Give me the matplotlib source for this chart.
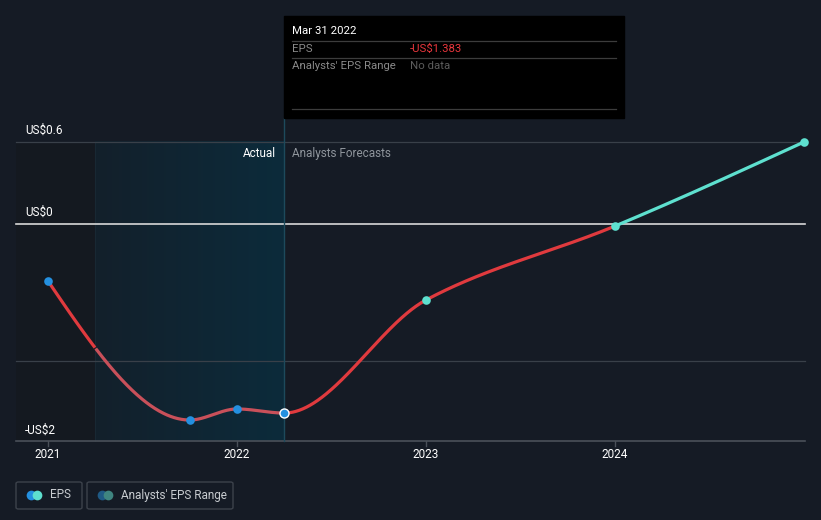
import numpy as np
import matplotlib
matplotlib.use("Agg")
import matplotlib.pyplot as plt
from matplotlib.patches import Rectangle, FancyBboxPatch
from matplotlib.colors import LinearSegmentedColormap

plt.rcParams['font.family'] = ['Roboto', 'DejaVu Sans']

# ---- data ----
actual_t = [2021.0, 2021.75, 2022.0, 2022.25]
actual_eps = [-0.417, -1.434, -1.353, -1.383]
forecast_t = [2022.25, 2023.0, 2024.0, 2025.0]
forecast_eps = [-1.383, -0.556, -0.015, 0.60]
year_ticks = [2021, 2022, 2023, 2024]
year_labels = ["2021", "2022", "2023", "2024"]
y_ticks = [0.6, 0.0, -1.6]
y_labels = ["US$0.6", "US$0", "-US$2"]
grid_extra = [-1.0]

BG = "#151b25"
W, H = 821, 520
fig = plt.figure(figsize=(W / 100, H / 100), dpi=100, facecolor=BG)
ax = fig.add_axes([0, 0, 1, 1])
ax.set_facecolor(BG)
ax.axis("off")

# pixel mapping (layout only)
x0_px, px_per_year = 48.0, 189.0
y0_px, px_per_unit = 224.0, 136.7
ax.set_xlim(2021 - x0_px / px_per_year, 2021 + (W - x0_px) / px_per_year)
ax.set_ylim((y0_px - H) / px_per_unit, y0_px / px_per_unit)

def X(px):
    return 2021 + (px - x0_px) / px_per_year

def Y(py):
    return (y0_px - py) / px_per_unit

xl, xr = X(16), X(805)
ybot = Y(441)

# left darker band
ax.add_patch(Rectangle((xl, ybot), 2021.25 - xl, y_ticks[0] - ybot, color="#141920", zorder=0, lw=0))
# gradient shaded actual region
cmap = LinearSegmentedColormap.from_list("g", ["#13202b", "#0c2b3b"])
grad = np.linspace(0, 1, 256).reshape(1, -1)
ax.imshow(grad, cmap=cmap, extent=[2021.25, 2022.25, ybot, y_ticks[0]], aspect="auto", zorder=0.5)
ax.plot([2021.25, 2021.25], [ybot, y_ticks[0]], color="#182833", lw=0.8, zorder=0.6)

# grid lines
for v in [y_ticks[0]] + grid_extra:
    ax.plot([xl, xr], [v, v], color="#394049", lw=0.9, zorder=1)
ax.plot([xl, xr], [0, 0], color="#d8d8d8", lw=1.2, zorder=1)
ax.plot([xl, xr], [ybot, ybot], color="#4a5059", lw=1.2, zorder=1)
for t, lab in zip(year_ticks, year_labels):
    ax.plot([t, t], [ybot, Y(446)], color="#4a5059", lw=1, zorder=1)
    ax.text(t, Y(455), lab, color="white", fontsize=8.5, ha="center", va="center")

for v, lab in zip(y_ticks, y_labels):
    ax.text(X(25), v + 12 / px_per_unit, lab, color="white", fontsize=8.5, ha="left", va="center")

# vertical divider
ax.plot([2022.25, 2022.25], [ybot, Y(118)], color="#1d4a5c", lw=1, zorder=1)
ax.text(X(276), Y(154), "Actual", color="white", fontsize=8.5, ha="right", va="center")
ax.text(X(292), Y(154), "Analysts Forecasts", color="#8f959c", fontsize=8.5, ha="left", va="center")

# monotone cubic interpolation (Fritsch-Carlson)
def monotone(xs, ys, n=200):
    xs = np.asarray(xs, float); ys = np.asarray(ys, float)
    h = np.diff(xs); d = np.diff(ys) / h
    m = np.zeros_like(ys)
    for i in range(1, len(xs) - 1):
        if d[i - 1] * d[i] <= 0:
            m[i] = 0
        else:
            w1 = 2 * h[i] + h[i - 1]; w2 = h[i] + 2 * h[i - 1]
            m[i] = (w1 + w2) / (w1 / d[i - 1] + w2 / d[i])
    m[0] = (3 * d[0] - m[1]) / 2
    m[-1] = (3 * d[-1] - m[-2]) / 2
    xo, yo = [], []
    for i in range(len(xs) - 1):
        t = np.linspace(0, 1, n)
        hh = h[i]
        h00 = 2 * t**3 - 3 * t**2 + 1; h10 = t**3 - 2 * t**2 + t
        h01 = -2 * t**3 + 3 * t**2; h11 = t**3 - t**2
        xo.append(xs[i] + t * hh)
        yo.append(h00 * ys[i] + h10 * hh * m[i] + h01 * ys[i + 1] + h11 * hh * m[i + 1])
    return np.concatenate(xo), np.concatenate(yo)

all_t = actual_t + forecast_t[1:]
all_y = actual_eps + forecast_eps[1:]
cx, cy = monotone(all_t, all_y)
m0 = cx <= 2021.25
m1 = (cx >= 2021.25) & (cx <= 2022.25)
m2 = (cx >= 2022.25) & (cx <= 2024.0)
m3 = cx >= 2024.0
ax.plot(cx[m0], cy[m0], color="#e03a3e", lw=2.3, zorder=3, solid_capstyle="butt")
ax.plot(cx[m1], cy[m1], color="#c9505a", lw=2.3, zorder=3, solid_capstyle="butt")
ax.plot(cx[m2], cy[m2], color="#e03a3e", lw=2.3, zorder=3, solid_capstyle="butt")
ax.plot(cx[m3], cy[m3], color="#5ee0cf", lw=2.3, zorder=3, solid_capstyle="round")

# markers
ax.plot(actual_t[:-1], actual_eps[:-1], "o", color="#2490e0", ms=6.2, mew=0, zorder=4)
ax.plot(actual_t[-1:], actual_eps[-1:], "o", color="#2490e0", ms=6.5, mec="white", mew=1, zorder=4)
ax.plot(forecast_t[1:], forecast_eps[1:], "o", color="#5ee0cf", ms=6.2, mew=0, zorder=4)

# tooltip (screen coordinates)
def fx(px): return px / W
def fy(py): return 1 - py / H
fig.patches.append(Rectangle((fx(284), fy(118)), (624 - 284) / W, (118 - 16) / H,
                             transform=fig.transFigure, color="black", zorder=5))
fig.text(fx(292), fy(31), "Mar 31 2022", color="white", fontsize=8.2, va="center", zorder=6)
for py in [41, 58, 109]:
    fig.add_artist(plt.Line2D([fx(292), fx(616)], [fy(py), fy(py)], transform=fig.transFigure,
                              color="#3c3c3c", lw=0.9, zorder=6))
fig.text(fx(292), fy(49), "EPS", color="#8a8a8a", fontsize=8.2, va="center", zorder=6)
fig.text(fx(410), fy(49), "-US$1.383", color="#e8363c", fontsize=8.2, va="center", zorder=6)
fig.text(fx(292), fy(66), "Analysts' EPS Range", color="#8a8a8a", fontsize=8.2, va="center", zorder=6)
fig.text(fx(410), fy(66), "No data", color="#5c5c5c", fontsize=8.2, va="center", zorder=6)

# legend
def legend_box(x1, x2, c1, c2, label):
    fig.patches.append(FancyBboxPatch((fx(x1), fy(509)), (x2 - x1) / W, (509 - 482) / H,
                                      boxstyle="round,pad=0,rounding_size=0.003",
                                      transform=fig.transFigure, fc="none", ec="#3c424b", lw=1))
    fig.add_artist(plt.Line2D([fx(x1 + 15)], [fy(495)], marker="o", ms=7, color=c1, mew=0,
                              transform=fig.transFigure))
    fig.add_artist(plt.Line2D([fx(x1 + 21)], [fy(495)], marker="o", ms=7, color=c2, mew=0,
                              transform=fig.transFigure))
    fig.text(fx(x1 + 34), fy(495), label, color="#c8ccd0", fontsize=8.5, va="center")

legend_box(16, 82, "#2490e0", "#5ee0cf", "EPS")
legend_box(87, 233, "#1f5a85", "#3f8580", "Analysts' EPS Range")

fig.savefig("out.png", dpi=100, facecolor=BG)
